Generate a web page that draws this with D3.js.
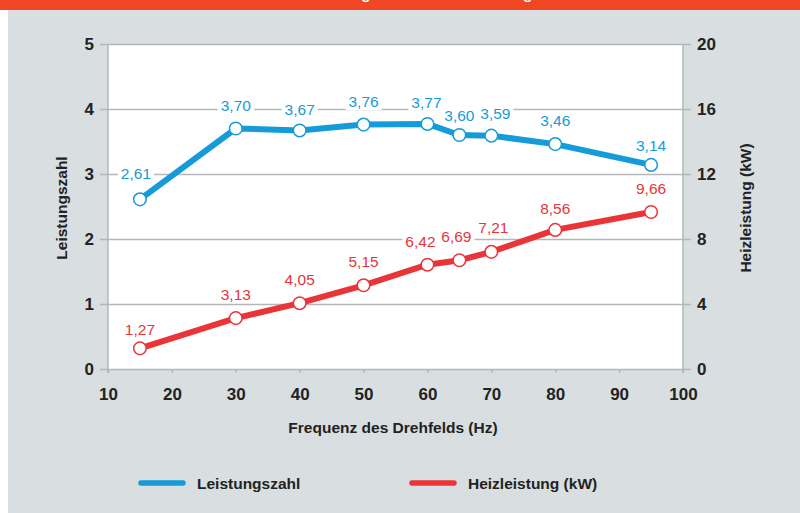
<!DOCTYPE html>
<html>
<head>
<meta charset="utf-8">
<script src="https://cdn.jsdelivr.net/npm/d3@7"></script>
<style>
  body { margin: 0; background: #fff; }
  svg { display: block; }
  text { font-family: "Liberation Sans", Arial, sans-serif; }
  .tk { font-family: "Liberation Sans Narrow", "Liberation Sans", Arial, sans-serif; font-stretch: condensed; }
</style>
</head>
<body>
<script>
const width = 800;
const height = 513;

// data
const freq = [15, 30, 40, 50, 60, 65, 70, 80, 95];
const cop = [2.61, 3.70, 3.67, 3.76, 3.77, 3.60, 3.59, 3.46, 3.14];
const heat = [1.27, 3.13, 4.05, 5.15, 6.42, 6.69, 7.21, 8.56, 9.66];
const xTicks = [10, 20, 30, 40, 50, 60, 70, 80, 90, 100];
const leftTicks = [0, 1, 2, 3, 4, 5];
const rightTicks = [0, 4, 8, 12, 16, 20];
const seriesNames = ['Leistungszahl', 'Heizleistung (kW)'];

const blue = '#159bd8';
const red = '#e93438';
const gridCol = '#b4b6b8';
const fmt = v => d3.format('.2f')(v).replace('.', ',');

const plotL = 108, plotR = 683, plotT = 44, plotB = 369;

const svg = d3.select('body')
  .append('svg')
  .attr('width', width)
  .attr('height', height)

svg.append('rect').attr('x', 8).attr('y', 0).attr('width', width - 8).attr('height', height).attr('fill', '#d9dee1')
svg.append('rect').attr('x', 0).attr('y', 0).attr('width', width).attr('height', 10).attr('fill', '#f04624')
// title sits mostly above the page edge, like in the original crop
svg.append('text')
  .text('Leistungszahl und Heizleistung')
  .attr('x', 420).attr('y', -1)
  .attr('text-anchor', 'middle')
  .attr('font-size', 15).attr('font-weight', 'bold').attr('fill', '#fff')

const x = d3.scaleLinear().domain([10, 100]).range([plotL, plotR]);
const yL = d3.scaleLinear().domain([0, 5]).range([plotB, plotT]);
const yR = d3.scaleLinear().domain([0, 20]).range([plotB, plotT]);

svg.append('rect')
  .attr('x', plotL).attr('y', plotT)
  .attr('width', plotR - plotL).attr('height', plotB - plotT)
  .attr('fill', '#fff')

// grid + ticks
const gl = svg.append('g')
  .attr('transform', `translate(${plotL},0)`)
  .call(d3.axisLeft(yL).tickValues(leftTicks).tickSize(8).tickPadding(6).tickFormat(d3.format('d')))
gl.select('.domain').remove()
gl.selectAll('line').attr('stroke', gridCol).attr('stroke-width', 1.5)
gl.selectAll('text').attr('class', 'tk').attr('font-size', 17).attr('font-weight', 'bold').attr('fill', '#222')
gl.selectAll('.tick').append('line')
  .attr('x1', 0).attr('x2', plotR - plotL)
  .attr('stroke', gridCol).attr('stroke-width', 1.5)

const gr = svg.append('g')
  .attr('transform', `translate(${plotR},0)`)
  .call(d3.axisRight(yR).tickValues(rightTicks).tickSize(8).tickPadding(6))
gr.select('.domain').remove()
gr.selectAll('line').attr('stroke', gridCol).attr('stroke-width', 1.5)
gr.selectAll('text').attr('class', 'tk').attr('font-size', 17).attr('font-weight', 'bold').attr('fill', '#222')

const gx = svg.append('g')
  .attr('transform', `translate(0,${plotB})`)
  .call(d3.axisBottom(x).tickValues(xTicks).tickSize(4).tickPadding(15))
gx.select('.domain').remove()
gx.selectAll('line').attr('stroke', gridCol).attr('stroke-width', 1.5)
gx.selectAll('text').attr('class', 'tk').attr('font-size', 17).attr('font-weight', 'bold').attr('fill', '#222')

svg.selectAll('g').attr('font-family', null)

// plot frame sides
svg.append('line').attr('x1', plotL).attr('x2', plotL).attr('y1', plotT).attr('y2', plotB + 4).attr('stroke', gridCol).attr('stroke-width', 1.5)
svg.append('line').attr('x1', plotR).attr('x2', plotR).attr('y1', plotT).attr('y2', plotB + 4).attr('stroke', gridCol).attr('stroke-width', 1.5)

// axis titles
svg.append('text')
  .text('Leistungszahl')
  .attr('transform', 'translate(67,208) rotate(-90)')
  .attr('text-anchor', 'middle')
  .attr('font-size', 15.5).attr('font-weight', 'bold').attr('fill', '#222')
svg.append('text')
  .text('Heizleistung (kW)')
  .attr('transform', 'translate(751,208) rotate(-90)')
  .attr('text-anchor', 'middle')
  .attr('font-size', 15.5).attr('font-weight', 'bold').attr('fill', '#222')
svg.append('text')
  .text('Frequenz des Drehfelds (Hz)')
  .attr('x', 393).attr('y', 433)
  .attr('text-anchor', 'middle')
  .attr('font-size', 15.5).attr('font-weight', 'bold').attr('fill', '#222')

// label nudges (px) so labels sit like in the original
const copLabelUp = [26, 23, 21, 23, 22, 20, 22, 24, 19];
const copLabelDx = [-4, 0, 0, 0, -1, 0, 4, 0, 0];
const heatLabelUp = [19, 24, 24, 24, 23, 24, 24, 21, 24];
const heatLabelDx = [0, 0, 0, 0, -7, -3, 2, 0, 0];

function drawSeries(vals, yScale, color, dx, up) {
  const pts = freq.map((f, i) => [x(f), yScale(vals[i])]);
  svg.append('path')
    .attr('d', d3.line()(pts))
    .attr('fill', 'none')
    .attr('stroke', color)
    .attr('stroke-width', 6)
    .attr('stroke-linejoin', 'round')

  const lab = svg.append('g').selectAll('g')
    .data(vals)
    .enter()
    .append('g')
    .attr('transform', (d, i) => `translate(${pts[i][0] + dx[i]},${pts[i][1] - up[i]})`)
  lab.append('rect').attr('fill', '#fff')
  lab.append('text')
    .text(d => fmt(d))
    .attr('text-anchor', 'middle')
    .attr('dy', '0.36em')
    .attr('font-size', 15.5)
    .attr('fill', color)
    .each(function () {
      const b = this.getBBox();
      d3.select(this.parentNode).select('rect')
        .attr('x', b.x - 3).attr('y', b.y)
        .attr('width', b.width + 6).attr('height', b.height)
    })

  svg.append('g').selectAll('circle')
    .data(pts)
    .enter()
    .append('circle')
    .attr('cx', d => d[0]).attr('cy', d => d[1])
    .attr('r', 6.3)
    .attr('fill', '#fff')
    .attr('stroke', color)
    .attr('stroke-width', 1.5)
}

drawSeries(cop, yL, blue, copLabelDx, copLabelUp);
drawSeries(heat, yR, red, heatLabelDx, heatLabelUp);

// legend
const legend = svg.append('g')
seriesNames.forEach((name, i) => {
  const lx = i === 0 ? 141 : 412;
  const color = i === 0 ? blue : red;
  legend.append('line')
    .attr('x1', lx).attr('x2', lx + 42)
    .attr('y1', 483).attr('y2', 483)
    .attr('stroke', color).attr('stroke-width', 5.5).attr('stroke-linecap', 'round')
  legend.append('text')
    .text(name)
    .attr('x', lx + 56).attr('y', 488.5)
    .attr('font-size', 15.5).attr('font-weight', 'bold').attr('fill', '#222')
})
</script>
</body>
</html>
